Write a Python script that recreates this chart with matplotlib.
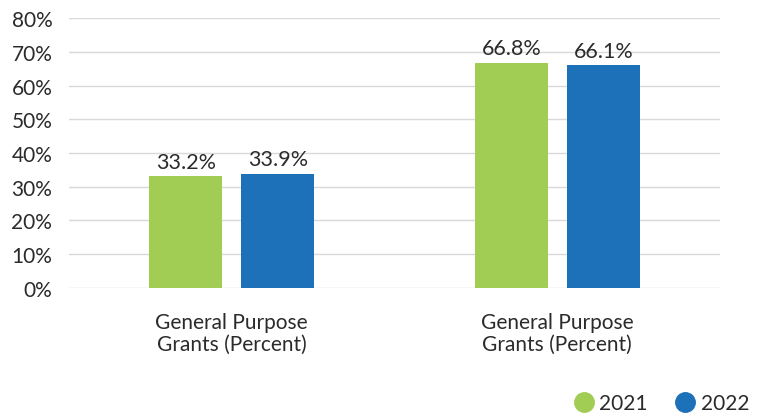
import numpy as np
import matplotlib.pyplot as plt
from matplotlib.lines import Line2D

plt.rcParams['font.family'] = ['Lato', 'DejaVu Sans']

# Grant shares by year
categories = ["General Purpose\nGrants (Percent)", "General Purpose\nGrants (Percent)"]
values_2021 = [33.2, 66.8]
values_2022 = [33.9, 66.1]
years = ["2021", "2022"]
colors = ["#a2cd55", "#1c71b9"]
yticks = [0, 10, 20, 30, 40, 50, 60, 70, 80]

fig = plt.figure(figsize=(7.62, 4.14), dpi=100)
ax = fig.add_axes([0.0906, 0.302, 0.8544, 0.652])

x = np.arange(len(categories))
w = 0.225
off = 0.1415
text_color = "#2b2b2b"

for vals, color, dx in [(values_2021, colors[0], -off), (values_2022, colors[1], off)]:
    bars = ax.bar(x + dx, vals, width=w, color=color, zorder=3)
    for b, v in zip(bars, vals):
        ax.text(b.get_x() + b.get_width() / 2, v + 1.3, f"{v:.1f}%",
                ha="center", va="bottom", fontsize=15.5, color=text_color)

ax.set_xlim(-0.5, 1.5)
ax.set_ylim(0, 80)
ax.set_yticks(yticks)
ax.set_yticklabels([f"{t}%" for t in yticks], fontsize=15, color=text_color)
ax.set_xticks(x)
ax.set_xticklabels(categories, fontsize=15, color=text_color, linespacing=1.15)
ax.tick_params(axis="both", length=0)
ax.tick_params(axis="x", pad=17)
ax.tick_params(axis="y", pad=12)
ax.grid(axis="y", color="#d9d9d9", linewidth=1, zorder=0)
for s in ax.spines.values():
    s.set_visible(False)

handles = [Line2D([], [], marker="o", linestyle="", markersize=14,
                  markerfacecolor=c, markeredgecolor=c) for c in colors]
fig.legend(handles, years, loc="lower right", bbox_to_anchor=(1.008, -0.045),
           ncol=2, frameon=False, fontsize=15, handlelength=1.0,
           handletextpad=0.25, columnspacing=1.3, labelcolor=text_color)

fig.savefig("out.png", dpi=100)
